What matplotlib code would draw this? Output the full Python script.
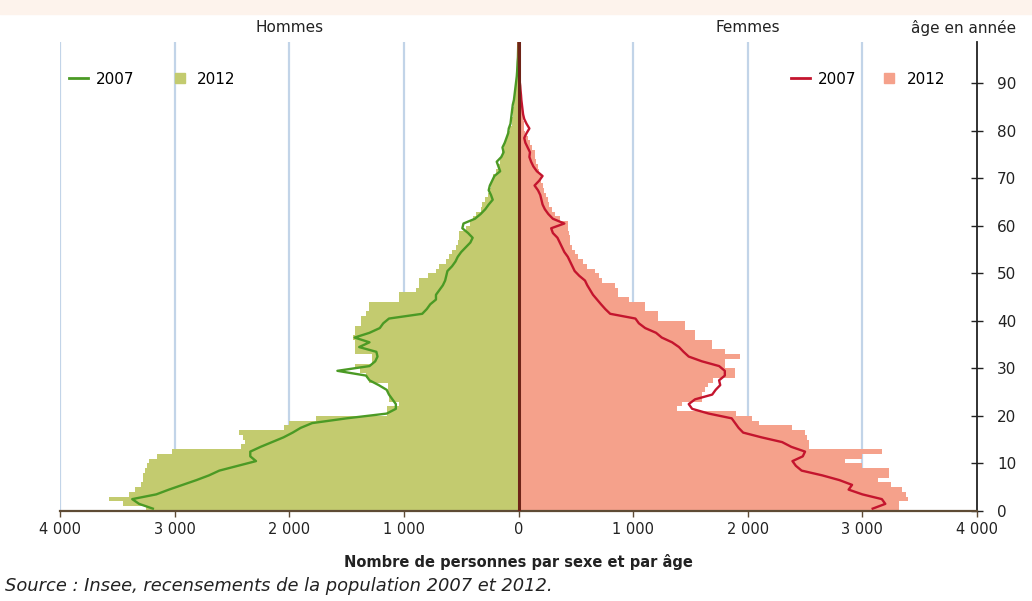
import numpy as np
import matplotlib
matplotlib.use("Agg")
import matplotlib.pyplot as plt
from matplotlib.lines import Line2D
from matplotlib.patches import Rectangle
from matplotlib.ticker import FuncFormatter

plt.rcParams['font.family'] = ['DejaVu Sans']

# population by single year of age (index = age 0..99)
hommes_2012 = [
    3250, 3450, 3570, 3400, 3350, 3290, 3280, 3280, 3260, 3240,
    3220, 3150, 3020, 2420, 2390, 2400, 2440, 2050, 2000, 1770,
    1150, 1150, 1040, 1130, 1130, 1140, 1140, 1300, 1330, 1380,
    1430, 1275, 1275, 1430, 1430, 1430, 1440, 1430, 1430, 1370,
    1370, 1330, 1300, 1300, 1040, 1040, 890, 870, 865, 790,
    720, 690, 630, 610, 580, 545, 530, 520, 515, 460,
    420, 400, 370, 330, 315, 290, 270, 255, 240, 230,
    225, 200, 180, 165, 150, 140, 130, 115, 105, 90,
    75, 60, 55, 50, 45, 40, 35, 30, 25, 20,
    18, 14, 12, 10, 8, 6, 4, 3, 2, 1,
]
hommes_2007 = [
    3190, 3310, 3370, 3160, 3050, 2930, 2810, 2700, 2610, 2450,
    2290, 2340, 2340, 2250, 2150, 2050, 1970, 1900, 1800, 1500,
    1150, 1070, 1070, 1100, 1130, 1150, 1220, 1300, 1330, 1580,
    1300, 1250, 1230, 1240, 1390, 1300, 1430, 1300, 1210, 1180,
    1130, 840, 800, 770, 720, 720, 690, 660, 640, 630,
    620, 580, 550, 530, 500, 460, 420, 400, 440, 490,
    480, 380, 330, 290, 260, 225, 240, 260, 250, 230,
    210, 160, 175, 190, 150, 130, 140, 120, 105, 90,
    85, 70, 65, 60, 55, 50, 40, 35, 30, 25,
    20, 15, 12, 10, 8, 5, 4, 3, 2, 1,
]
femmes_2012 = [
    3320, 3320, 3400, 3380, 3350, 3250, 3140, 3230, 3230, 3000,
    2850, 3000, 3170, 2530, 2530, 2520, 2500, 2390, 2100, 2040,
    1900, 1380, 1425, 1600, 1600, 1630, 1650, 1700, 1890, 1890,
    1800, 1800, 1935, 1800, 1690, 1690, 1540, 1540, 1455, 1455,
    1220, 1220, 1105, 1105, 960, 870, 870, 840, 730, 700,
    665, 600, 560, 520, 490, 470, 450, 445, 440, 435,
    430, 360, 320, 290, 270, 255, 240, 225, 210, 200,
    195, 180, 170, 155, 145, 140, 120, 100, 80, 60,
    50, 45, 40, 38, 35, 30, 28, 25, 20, 18,
    15, 12, 10, 8, 6, 5, 4, 3, 2, 1,
]
femmes_2007 = [
    3090, 3200, 3170, 3000, 2880, 2910, 2800, 2650, 2470, 2420,
    2390, 2480, 2500, 2380, 2300, 2120, 1960, 1920, 1890, 1860,
    1660, 1515, 1485, 1540, 1690, 1720, 1760, 1750, 1800, 1800,
    1750, 1600, 1485, 1440, 1400, 1340, 1250, 1200, 1105, 1050,
    1020, 800, 757, 720, 685, 650, 625, 600, 580, 530,
    490, 470, 450, 430, 400, 380, 360, 340, 300, 285,
    400, 300, 260, 230, 210, 200, 190, 170, 140, 180,
    210, 160, 130, 110, 95, 100, 80, 60, 50, 70,
    95, 70, 50, 40, 35, 30, 25, 22, 18, 15,
    10, 8, 6, 5, 4, 3, 2, 2, 1, 1,
]
ages = np.arange(len(hommes_2012))
x_ticks = [-4000, -3000, -2000, -1000, 0, 1000, 2000, 3000, 4000]
y_ticks = [0, 10, 20, 30, 40, 50, 60, 70, 80, 90]

col_h12 = '#c3cb6f'
col_h07 = '#4b9a25'
col_f12 = '#f5a18b'
col_f07 = '#c4152e'
txt = '#222222'

fig = plt.figure(figsize=(10.32, 6.01), dpi=100)
fig.patches.append(Rectangle((0, 1 - 14 / 601), 1, 14 / 601, transform=fig.transFigure,
                             color='#fdf3ec', zorder=0))
ax = fig.add_axes([60 / 1032, 1 - 511 / 601, (977 - 60) / 1032, (511 - 42) / 601])
ax.set_xlim(-4000, 4000)
ax.set_ylim(0, 98.7)

for v in x_ticks[:-1]:
    if v != 0:
        ax.axvline(v, color='#c2d4e8', lw=1.6, zorder=0)

ax.barh(ages, -np.array(hommes_2012), height=1, align='edge', color=col_h12, linewidth=0, zorder=1)
ax.barh(ages, femmes_2012, height=1, align='edge', color=col_f12, linewidth=0, zorder=1)
ax.plot(-np.array(hommes_2007), ages + 0.5, color=col_h07, lw=1.7, zorder=3)
ax.plot(femmes_2007, ages + 0.5, color=col_f07, lw=1.7, zorder=3)
ax.axvline(0, color='#6e2418', lw=2.2, zorder=4)

ax.spines['top'].set_visible(False)
ax.spines['left'].set_visible(False)
ax.spines['bottom'].set_color('#5e4b35')
ax.spines['bottom'].set_linewidth(1.6)
ax.spines['right'].set_color(txt)
ax.spines['right'].set_linewidth(1.3)

ax.set_xticks(x_ticks)
ax.xaxis.set_major_formatter(FuncFormatter(lambda v, p: f"{abs(int(v)):,}".replace(',', ' ')))
ax.tick_params(axis='x', direction='out', length=4, width=1, colors='#5e4b35',
               labelcolor=txt, labelsize=10.5, pad=4)
ax.yaxis.tick_right()
ax.set_yticks(y_ticks)
ax.tick_params(axis='y', direction='inout', length=9, width=1, colors=txt,
               labelsize=11, pad=10)

ax.set_xlabel('Nombre de personnes par sexe et par âge', fontsize=10.5, fontweight='bold',
              color=txt, labelpad=12)

fig.text(290 / 1032, 1 - 27 / 601, 'Hommes', ha='center', va='center', fontsize=11, color=txt)
fig.text(748 / 1032, 1 - 27 / 601, 'Femmes', ha='center', va='center', fontsize=11, color=txt)
fig.text(964 / 1032, 1 - 28 / 601, 'âge en année', ha='center', va='center', fontsize=11, color=txt)
fig.text(5 / 1032, 1 - 586 / 601, 'Source : Insee, recensements de la population 2007 et 2012.',
         ha='left', va='center', fontsize=12.9, style='italic', color=txt)

leg_kw = dict(ncol=2, frameon=False, fontsize=11, handlelength=1.3,
              handletextpad=0.5, borderpad=0.3)
h_line = Line2D([], [], color=col_h07, lw=2)
h_sq = Line2D([], [], color=col_h12, marker='s', markersize=7, linestyle='none')
leg_h = ax.legend([h_line, h_sq], ['2007', '2012'], loc='upper left',
                  bbox_to_anchor=(-0.004, 0.963), columnspacing=2.3, **leg_kw)
ax.add_artist(leg_h)
f_line = Line2D([], [], color=col_f07, lw=2)
f_sq = Line2D([], [], color=col_f12, marker='s', markersize=7, linestyle='none')
ax.legend([f_line, f_sq], ['2007', '2012'], loc='upper right',
          bbox_to_anchor=(0.979, 0.963), columnspacing=1.5, **leg_kw)

fig.savefig('out.png', dpi=100)
